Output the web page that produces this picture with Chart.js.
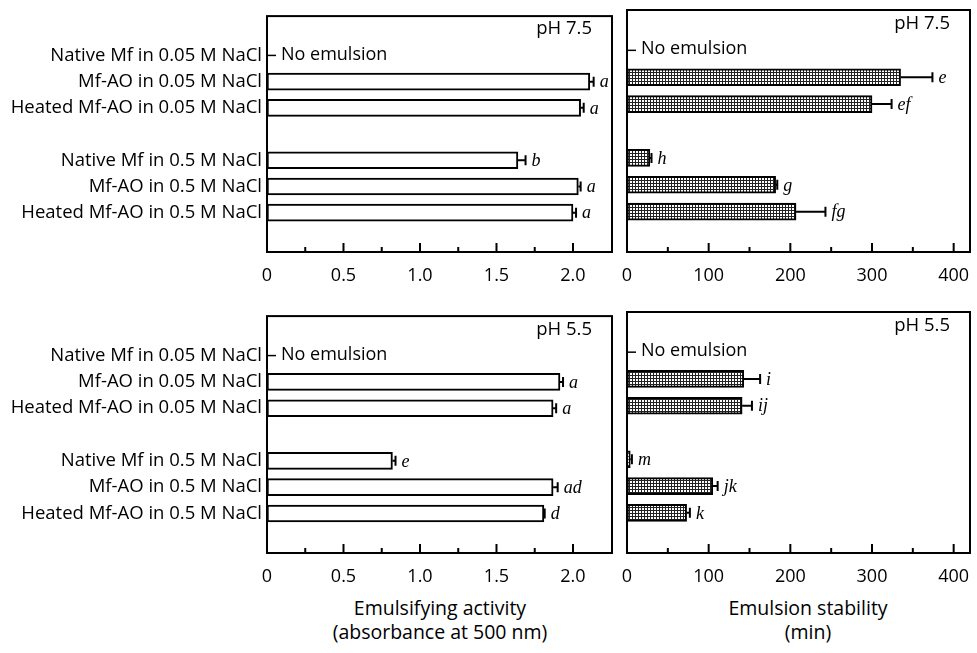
<!DOCTYPE html>
<html>
<head>
<meta charset="utf-8">
<script src="https://cdn.jsdelivr.net/npm/chart.js@4.4.1/dist/chart.umd.min.js"></script>
<style>
  html, body { margin:0; padding:0; background:#fff; }
  body { width:977px; height:653px; position:relative; overflow:hidden; font-family:"Open Sans", sans-serif; }
  .cv { position:absolute; }
  .ttl { position:absolute; text-align:center; font-family:"Open Sans", sans-serif; font-size:19.5px; line-height:24px; color:#000; white-space:nowrap; }
</style>
</head>
<body>
<div class="cv" style="left:0;top:0;width:620px;height:292px;"><canvas id="c1"></canvas></div>
<div class="cv" style="left:620px;top:0;width:357px;height:292px;"><canvas id="c2"></canvas></div>
<div class="cv" style="left:0;top:300px;width:620px;height:292px;"><canvas id="c3"></canvas></div>
<div class="cv" style="left:620px;top:300px;width:357px;height:292px;"><canvas id="c4"></canvas></div>
<div class="ttl" style="left:290px;top:596px;width:300px;">Emulsifying activity<br>(absorbance at 500 nm)</div>
<div class="ttl" style="left:658px;top:596px;width:300px;">Emulsion stability<br>(min)</div>
<script>
// ---------- data ----------
const categories = ['', 'Native Mf in 0.05 M NaCl', 'Mf-AO in 0.05 M NaCl', 'Heated Mf-AO in 0.05 M NaCl', '',
                    'Native Mf in 0.5 M NaCl', 'Mf-AO in 0.5 M NaCl', 'Heated Mf-AO in 0.5 M NaCl', ''];
const noEmulsionRow = 1;

const activity75      = [null, null, 2.11, 2.05, null, 1.64, 2.035, 2.00, null];
const activity75Err   = [null, null, 0.025, 0.02, null, 0.05, 0.015, 0.02, null];
const activity75Sig   = ['', '', 'a', 'a', '', 'b', 'a', 'a', ''];

const stability75     = [null, null, 335, 300, null, 28, 182, 207, null];
const stability75Err  = [null, null, 39, 24, null, 2, 2, 36, null];
const stability75Sig  = ['', '', 'e', 'ef', '', 'h', 'g', 'fg', ''];

const activity55      = [null, null, 1.915, 1.87, null, 0.82, 1.87, 1.81, null];
const activity55Err   = [null, null, 0.02, 0.02, null, 0.02, 0.03, 0.005, null];
const activity55Sig   = ['', '', 'a', 'a', '', 'e', 'ad', 'd', ''];

const stability55     = [null, null, 143, 141, null, 4, 105, 73, null];
const stability55Err  = [null, null, 20, 12, null, 2, 6, 4, null];
const stability55Sig  = ['', '', 'i', 'ij', '', 'm', 'jk', 'k', ''];

const activityTicks   = [0, 0.25, 0.5, 0.75, 1.0, 1.25, 1.5, 1.75, 2.0];
const activityLabels  = ['0', '', '0.5', '', '1.0', '', '1.5', '', '2.0'];
const stabilityTicks  = [0, 50, 100, 150, 200, 250, 300, 350, 400];
const stabilityLabels = ['0', '', '100', '', '200', '', '300', '', '400'];

// ---------- pattern ----------
function dotPattern() {
  const c = document.createElement('canvas');
  c.width = 3; c.height = 3;
  const g = c.getContext('2d');
  g.fillStyle = '#222'; g.fillRect(0, 0, 3, 3);
  g.fillStyle = '#fff'; g.fillRect(1, 1, 2, 2);
  return g.createPattern(c, 'repeat');
}

const decor = {
  id: 'decor',
  afterDatasetsDraw(chart) {
    const cfg = chart.options.plugins.decor;
    const { ctx, chartArea: a } = chart;
    const x = chart.scales.x, y = chart.scales.y;
    ctx.save();
    ctx.strokeStyle = '#000';
    ctx.fillStyle = '#000';
    ctx.lineWidth = 2;
    // error bars and letters
    cfg.values.forEach((v, i) => {
      if (v == null) return;
      const yc = y.getPixelForValue(i);
      const x0 = x.getPixelForValue(v);
      const x1 = x.getPixelForValue(v + cfg.errors[i]);
      ctx.beginPath();
      ctx.moveTo(x0, yc); ctx.lineTo(x1, yc);
      ctx.moveTo(x1, yc - 5); ctx.lineTo(x1, yc + 5);
      ctx.stroke();
      ctx.font = 'italic 18px "Liberation Serif", serif';
      ctx.textAlign = 'left';
      ctx.textBaseline = 'middle';
      ctx.fillText(cfg.letters[i], x1 + 6, yc + 1);
    });
    // frame
    ctx.lineWidth = 2;
    ctx.strokeRect(a.left, a.top, a.right - a.left, a.bottom - a.top);
    // inward x ticks + labels
    ctx.font = '18px "Open Sans", sans-serif';
    ctx.textAlign = 'center';
    ctx.textBaseline = 'middle';
    cfg.ticks.forEach((t, k) => {
      const px = x.getPixelForValue(t);
      const len = cfg.tickLabels[k] ? 9 : 5;
      ctx.beginPath();
      ctx.moveTo(px, a.bottom); ctx.lineTo(px, a.bottom - len);
      ctx.stroke();
      if (cfg.tickLabels[k]) ctx.fillText(cfg.tickLabels[k], px, a.bottom + 24);
    });
    // "No emulsion"
    const yn = y.getPixelForValue(noEmulsionRow);
    ctx.lineWidth = 1.5;
    ctx.beginPath();
    ctx.moveTo(a.left, yn); ctx.lineTo(a.left + 9, yn);
    ctx.stroke();
    ctx.font = '18px "Open Sans", sans-serif';
    ctx.textAlign = 'left';
    ctx.textBaseline = 'middle';
    ctx.fillText('No emulsion', a.left + 14, yn - 1);
    // pH label
    ctx.font = '18.5px "Open Sans", sans-serif';
    ctx.textAlign = 'right';
    ctx.fillText(cfg.ph, a.right - 20, y.getPixelForValue(0));
    ctx.restore();
  }
};

function makeChart(id, values, errors, letters, ticks, tickLabels, xmax, ph, isLeft, patterned, topPad, axisH) {
  const ctx = document.getElementById(id);
  return new Chart(ctx, {
    type: 'bar',
    data: {
      labels: categories,
      datasets: [{
        data: values,
        backgroundColor: patterned ? dotPattern() : '#fff',
        borderColor: '#000',
        borderWidth: 2,
        borderSkipped: false,
        barThickness: 17,
      }]
    },
    options: {
      indexAxis: 'y',
      responsive: true,
      maintainAspectRatio: false,
      animation: false,
      layout: { padding: { top: topPad, right: isLeft ? 8 : 7, left: 0, bottom: 0 } },
      plugins: {
        legend: { display: false },
        tooltip: { enabled: false },
        decor: { values, errors, letters, ticks, tickLabels, ph }
      },
      scales: {
        x: {
          type: 'linear',
          min: 0, max: xmax,
          grid: { display: false, drawTicks: false },
          border: { display: false },
          afterBuildTicks: (ax) => { ax.ticks = ticks.map(v => ({ value: v })); },
          afterFit: (ax) => { ax.height = axisH; },
          ticks: { display: false }
        },
        y: {
          type: 'category',
          grid: { display: false, drawTicks: false },
          border: { display: false },
          afterFit: (ax) => { ax.width = isLeft ? 267 : 7; },
          ticks: {
            display: isLeft,
            autoSkip: false,
            padding: 5,
            color: '#000',
            font: { family: '"Open Sans", sans-serif', size: 18.5 }
          }
        }
      }
    },
    plugins: [decor]
  });
}

makeChart('c1', activity75, activity75Err, activity75Sig, activityTicks, activityLabels, 2.255, 'pH 7.5', true, false, 10, 40);
makeChart('c2', stability75, stability75Err, stability75Sig, stabilityTicks, stabilityLabels, 420, 'pH 7.5', false, true, 10, 40);
makeChart('c3', activity55, activity55Err, activity55Sig, activityTicks, activityLabels, 2.255, 'pH 5.5', true, false, 12, 39);
makeChart('c4', stability55, stability55Err, stability55Sig, stabilityTicks, stabilityLabels, 420, 'pH 5.5', false, true, 12, 39);
</script>
</body>
</html>
